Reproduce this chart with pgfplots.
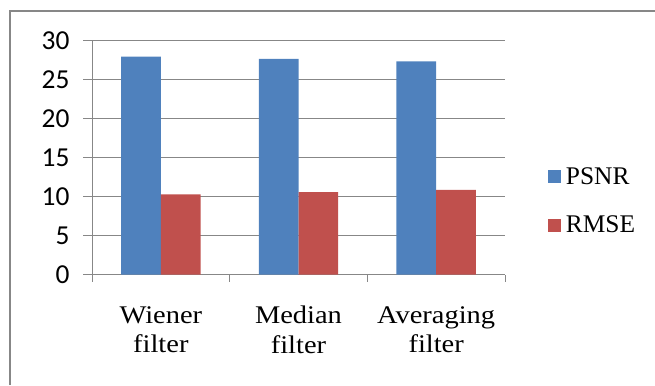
\documentclass[border=0pt]{standalone}
\usepackage{pgfplots}
\pgfplotsset{compat=1.18}
\usepackage{fontspec}
\setmainfont{Liberation Serif}
\newfontfamily\calib{Carlito}
\newfontfamily\camb[FakeStretch=1.12]{Liberation Serif}
\definecolor{psnr}{HTML}{4F81BD}
\definecolor{rmse}{HTML}{C0504D}
\definecolor{gridc}{HTML}{878787}
\begin{document}
\begin{tikzpicture}[x=1bp,y=1bp]
\useasboundingbox (0,0) rectangle (655,385);
\draw[gridc, line width=1.5bp] (10,0) -- (10,374) -- (655,374);
\begin{axis}[
  at={(92bp,110.3bp)}, anchor=south west,
  scale only axis, width=413bp, height=233.7bp,
  xmin=-0.5, xmax=2.5, ymin=0, ymax=30,
  ybar=0pt, bar width=39.7bp,
  axis x line*=bottom, axis y line*=left,
  axis line style={gridc, line width=1bp, -},
  ytick={0,5,...,30},
  ymajorgrids, grid style={gridc, line width=1bp},
  tick align=outside,
  major tick length=9bp, minor tick length=7bp,
  ytick style={gridc, line width=1bp},
  xtick={0,1,2},
  xticklabels={Wiener\\filter, Median\\filter, Averaging\\filter},
  xticklabel style={align=center, font=\camb\fontsize{25.5}{30}\selectfont, yshift=-19bp},
  major x tick style={draw=none},
  minor xtick={-0.5,0.5,1.5,2.5},
  minor x tick style={gridc, line width=1bp},
  yticklabel style={font=\calib\fontsize{27.5}{30}\selectfont, xshift=-10bp, /pgf/number format/assume math mode=true},
  legend style={draw=none, at={(1.104,0.315)}, anchor=west, inner sep=0pt, outer sep=0pt,
    font=\rmfamily\fontsize{25.5}{30}\selectfont, row sep=26bp},
  legend cell align=left,
  legend image code/.code={\fill[#1,draw=none] (0bp,-6.5bp) rectangle (13bp,6.5bp); \path (16bp,0bp);},
]
\addplot[fill=psnr, draw=none] coordinates {(0,28.0) (1,27.7) (2,27.4)};
\addplot[fill=rmse, draw=none] coordinates {(0,10.3) (1,10.6) (2,10.9)};
\legend{PSNR, RMSE}
\end{axis}
\end{tikzpicture}
\end{document}
